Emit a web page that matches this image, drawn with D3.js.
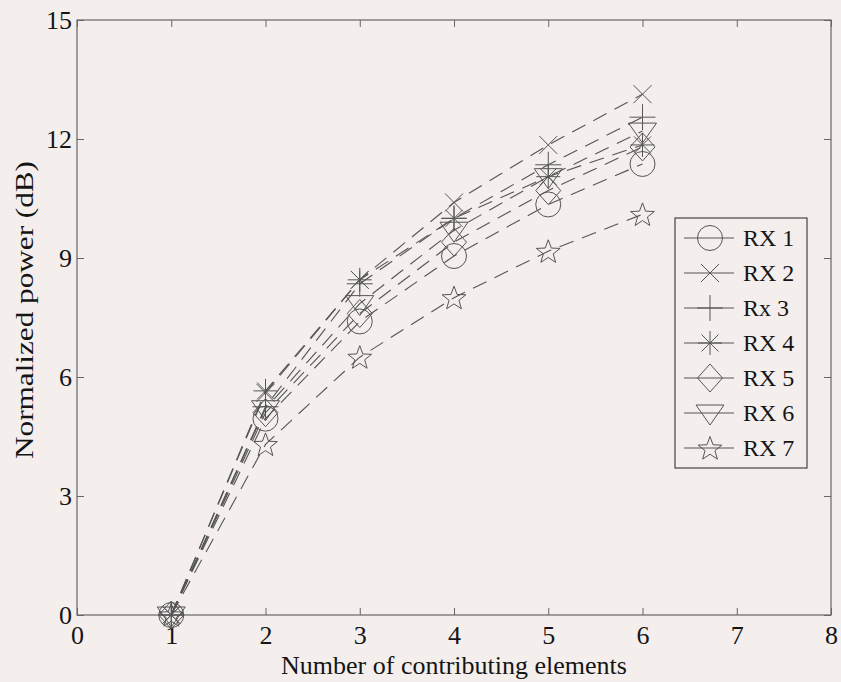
<!DOCTYPE html>
<html><head><meta charset="utf-8">
<script src="https://cdn.jsdelivr.net/npm/d3@7"></script>
<style>
body{margin:0;background:#f4efed;}
svg{display:block;}
text{font-family:"Liberation Serif","Times New Roman",serif;fill:#151515;}
</style>
</head><body>
<svg id="chart" width="841" height="682"></svg>
<script>
// ---- data ----
const xValues = [1, 2, 3, 4, 5, 6];
const seriesNames = ["RX 1", "RX 2", "Rx 3", "RX 4", "RX 5", "RX 6", "RX 7"];
const seriesMarkers = ["circle", "x", "plus", "asterisk", "diamond", "triangle", "star"];
const rx1 = [0, 4.95, 7.40, 9.05, 10.35, 11.37];
const rx2 = [0, 5.60, 8.45, 10.40, 11.85, 13.13];
const rx3 = [0, 5.25, 8.35, 10.00, 11.35, 12.55];
const rx4 = [0, 5.65, 8.45, 10.00, 11.05, 11.85];
const rx5 = [0, 5.10, 7.60, 9.40, 10.70, 11.80];
const rx6 = [0, 5.20, 7.85, 9.70, 11.05, 12.20];
const rx7 = [0, 4.30, 6.50, 8.00, 9.17, 10.10];
const seriesValues = [rx1, rx2, rx3, rx4, rx5, rx6, rx7];
const xTicks = [0, 1, 2, 3, 4, 5, 6, 7, 8];
const yTicks = [0, 3, 6, 9, 12, 15];
const xLabel = "Number of contributing elements";
const yLabel = "Normalized power (dB)";

// ---- layout ----
const L = 77, R = 831, T = 20, B = 615;
const svg = d3.select("#chart");
const x = d3.scaleLinear().domain([0, 8]).range([L, R]);
const y = d3.scaleLinear().domain([0, 15]).range([B, T]);
const axisColor = "#666";
const markColor = "#555";

// plot frame
svg.append("rect").attr("x", L).attr("y", T).attr("width", R - L).attr("height", B - T)
  .attr("fill", "none").attr("stroke", axisColor).attr("stroke-width", 1.2);

function styleAxis(g) {
  g.attr("font-family", null).attr("font-size", null);
  g.select(".domain").remove();
  g.selectAll(".tick line").attr("stroke", axisColor).attr("stroke-width", 1);
  g.selectAll(".tick text").attr("font-size", 26).attr("fill", "#151515");
}
const tl = 7;
svg.append("g").attr("transform", `translate(0,${B})`)
  .call(d3.axisBottom(x).tickValues(xTicks).tickFormat(d3.format("d")).tickSizeInner(-tl).tickPadding(11))
  .call(styleAxis);
svg.append("g").attr("transform", `translate(0,${T})`)
  .call(d3.axisTop(x).tickValues(xTicks).tickFormat("").tickSizeInner(-tl))
  .call(styleAxis);
svg.append("g").attr("transform", `translate(${L},0)`)
  .call(d3.axisLeft(y).tickValues(yTicks).tickFormat(d3.format("d")).tickSizeInner(-tl).tickPadding(5))
  .call(styleAxis);
svg.append("g").attr("transform", `translate(${R},0)`)
  .call(d3.axisRight(y).tickValues(yTicks).tickFormat("").tickSizeInner(-tl))
  .call(styleAxis);

// labels
svg.append("text").attr("x", (L + R) / 2).attr("y", 674).attr("text-anchor", "middle")
  .attr("font-size", 26).text(xLabel);
svg.append("text").attr("transform", `translate(33,310) rotate(-90)`)
  .attr("text-anchor", "middle").attr("font-size", 26)
  .attr("textLength", 298).attr("lengthAdjust", "spacingAndGlyphs").text(yLabel);

// marker shapes
function markerPath(type) {
  const p = d3.path();
  switch (type) {
    case "circle": p.moveTo(12.5, 0); p.arc(0, 0, 12.5, 0, 2 * Math.PI); break;
    case "x": p.moveTo(-9, -9); p.lineTo(9, 9); p.moveTo(-9, 9); p.lineTo(9, -9); break;
    case "plus": p.moveTo(-13, 0); p.lineTo(13, 0); p.moveTo(0, -13); p.lineTo(0, 13); break;
    case "asterisk":
      p.moveTo(-12, 0); p.lineTo(12, 0); p.moveTo(0, -12); p.lineTo(0, 12);
      p.moveTo(-8.5, -8.5); p.lineTo(8.5, 8.5); p.moveTo(-8.5, 8.5); p.lineTo(8.5, -8.5); break;
    case "diamond": p.moveTo(0, -14); p.lineTo(12.5, 0); p.lineTo(0, 14); p.lineTo(-12.5, 0); p.closePath(); break;
    case "triangle": p.moveTo(-14, -8); p.lineTo(14, -8); p.lineTo(0, 12); p.closePath(); break;
    case "star": {
      const Ro = 12.5, Ri = 5.2;
      for (let i = 0; i < 10; i++) {
        const r = i % 2 === 0 ? Ro : Ri;
        const a = -Math.PI / 2 + i * Math.PI / 5;
        const px = r * Math.cos(a), py = r * Math.sin(a) + 1;
        if (i === 0) p.moveTo(px, py); else p.lineTo(px, py);
      }
      p.closePath(); break;
    }
  }
  return p.toString();
}

const line = d3.line().x((d, i) => x(xValues[i])).y(d => y(d));

seriesValues.forEach((vals) => {
  svg.append("path").datum(vals).attr("d", line)
    .attr("fill", "none").attr("stroke", markColor).attr("stroke-width", 1.1)
    .attr("stroke-dasharray", "15,9");
});
seriesValues.forEach((vals, si) => {
  svg.append("g").selectAll("path").data(vals).join("path")
    .attr("transform", (d, i) => `translate(${x(xValues[i])},${y(d)})`)
    .attr("d", markerPath(seriesMarkers[si]))
    .attr("fill", "none").attr("stroke", markColor).attr("stroke-width", 1);
});

// legend
const lg = svg.append("g");
lg.append("rect").attr("x", 675).attr("y", 218).attr("width", 132).attr("height", 250)
  .attr("fill", "#f4efed").attr("stroke", "#444").attr("stroke-width", 1.2);
seriesNames.forEach((name, i) => {
  const cy = 238 + i * 35;
  lg.append("line").attr("x1", 684).attr("x2", 734).attr("y1", cy).attr("y2", cy)
    .attr("stroke", markColor).attr("stroke-width", 1);
  lg.append("path").attr("transform", `translate(710,${cy})`).attr("d", markerPath(seriesMarkers[i]))
    .attr("fill", "none").attr("stroke", markColor).attr("stroke-width", 1);
  lg.append("text").attr("x", 743).attr("y", cy + 8).attr("font-size", 24).text(name);
});
</script>
</body></html>
